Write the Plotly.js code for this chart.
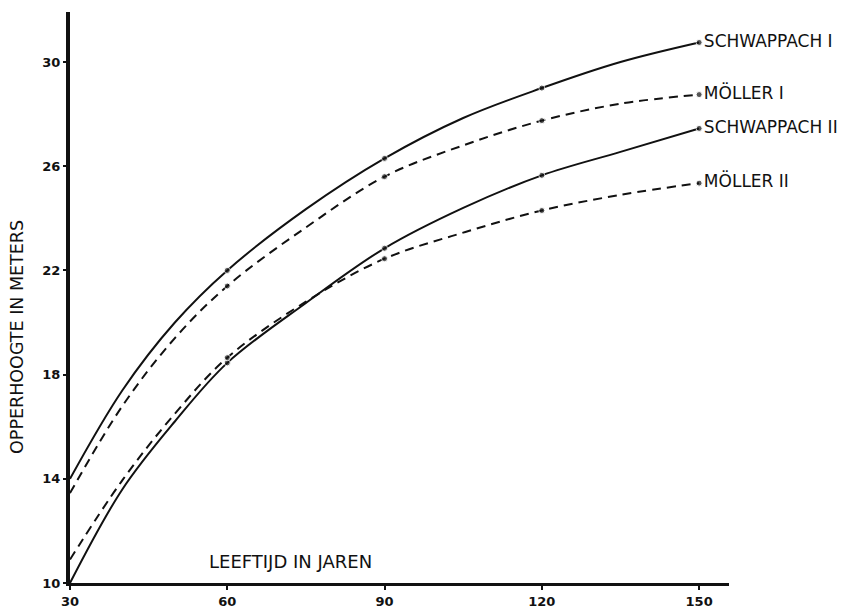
<!DOCTYPE html>
<html>
<head>
<meta charset="utf-8">
<script src="https://cdn.plot.ly/plotly-3.0.1.min.js"></script>
<style>html,body{margin:0;padding:0;background:#fff;}#chart{width:848px;height:610px;}</style>
</head>
<body>
<div id="chart"></div>
<script>
// Age in years (LEEFTIJD IN JAREN)
var ages = [30, 40, 50, 60, 75, 90, 105, 120, 135, 150];
// Top height in meters (OPPERHOOGTE IN METERS)
var schwappach1 = [14.0, 17.4, 20.0, 22.0, 24.35, 26.3, 27.85, 29.0, 30.0, 30.75];
var moller1     = [13.45, 16.8, 19.4, 21.4, 23.65, 25.6, 26.8, 27.75, 28.4, 28.75];
var schwappach2 = [10.0, 13.6, 16.2, 18.45, 20.75, 22.85, 24.4, 25.65, 26.55, 27.45];
var moller2     = [10.9, 13.95, 16.5, 18.65, 20.8, 22.45, 23.45, 24.3, 24.9, 25.35];
var seriesNames = ["SCHWAPPACH I", "MÖLLER I", "SCHWAPPACH II", "MÖLLER II"];
var markedAges = [60, 90, 120, 150];
var xTicks = [30, 60, 90, 120, 150];
var yTicks = [10, 14, 18, 22, 26, 30];

var markerSizes = ages.map(function (a) { return markedAges.indexOf(a) >= 0 ? 6 : 0; });
function endText(name) { return ages.map(function (a, i) { return i === ages.length - 1 ? name : ""; }); }

function series(y, name, dash) {
  return {
    x: ages, y: y, name: name, type: "scatter", mode: "lines+markers+text",
    line: {color: "#111", width: 2, dash: dash, shape: "spline", smoothing: 1},
    marker: {color: "#111", size: markerSizes},
    text: endText(name), textposition: "middle right",
    textfont: {family: "DejaVu Sans", size: 17, color: "#111"},
    cliponaxis: false, hoverinfo: "x+y+name"
  };
}

var data = [
  series(schwappach1, seriesNames[0], "solid"),
  series(moller1, seriesNames[1], "9px,6px"),
  series(schwappach2, seriesNames[2], "solid"),
  series(moller2, seriesNames[3], "9px,6px")
];

var tickFont = {family: "DejaVu Sans", size: 13, color: "#111", weight: "bold"};

var layout = {
  width: 848, height: 610,
  margin: {l: 70, r: 119, t: 12, b: 27, pad: 0},
  paper_bgcolor: "#fff", plot_bgcolor: "#fff",
  showlegend: false,
  font: {family: "DejaVu Sans", color: "#111"},
  xaxis: {
    range: [30, 155.7], tickvals: xTicks, ticktext: xTicks.map(String),
    showgrid: false, zeroline: false, showline: true, linewidth: 3, linecolor: "#111",
    ticks: "outside", ticklen: 4, tickwidth: 2, tickcolor: "#111",
    tickfont: tickFont, ticklabelstandoff: 0
  },
  yaxis: {
    range: [10, 31.92], tickvals: yTicks, ticktext: yTicks.map(String),
    showgrid: false, zeroline: false, showline: true, linewidth: 4, linecolor: "#111",
    ticks: "outside", ticklen: 3, tickwidth: 2, tickcolor: "#111",
    tickfont: tickFont, ticklabelstandoff: 0
  },
  annotations: [
    {text: "OPPERHOOGTE IN METERS", xref: "paper", yref: "paper", x: -0.0804, y: 0.431,
     xanchor: "center", yanchor: "middle", textangle: -90, showarrow: false,
     font: {family: "DejaVu Sans", size: 17.5, color: "#111"}},
    {text: "LEEFTIJD IN JAREN", xref: "paper", yref: "paper", x: 0.208, y: 0.0385,
     xanchor: "left", yanchor: "middle", showarrow: false,
     font: {family: "DejaVu Sans", size: 18, color: "#111"}}
  ]
};

Plotly.newPlot("chart", data, layout, {displayModeBar: false, staticPlot: true});
</script>
</body>
</html>
